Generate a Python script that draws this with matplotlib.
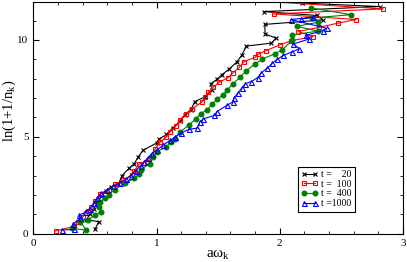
import matplotlib
matplotlib.use("Agg")
import matplotlib.pyplot as plt

# t = 20
x20 = [0.50, 0.53, 0.43, 0.46, 0.49, 0.52, 0.55, 0.59, 0.63, 0.69, 0.72, 0.78, 0.82, 0.85,
       0.89, 1.00, 1.02, 1.08, 1.13, 1.19, 1.23, 1.28, 1.31, 1.39, 1.45, 1.44, 1.49, 1.53,
       1.59, 1.65, 1.69, 1.73, 1.93, 1.97, 1.88, 1.88, 2.35, 2.30, 1.87, 2.81, 2.18]
y20 = [0.22, 0.62, 0.72, 1.02, 1.30, 1.60, 1.92, 2.20, 2.42, 2.55, 3.00, 3.40, 3.62, 3.96,
       4.30, 4.68, 4.88, 5.12, 5.45, 5.80, 6.15, 6.40, 6.82, 7.05, 7.40, 7.74, 7.96, 8.20,
       8.50, 8.85, 9.20, 9.68, 9.83, 10.09, 10.31, 10.80, 11.03, 11.26, 11.46, 11.72, 11.90]

# t = 100
x100 = [0.18, 0.33, 0.36, 0.40, 0.44, 0.47, 0.50, 0.54, 0.61, 0.66, 0.73, 0.80, 0.82, 0.86,
        0.92, 0.99, 1.03, 1.08, 1.11, 1.16, 1.19, 1.24, 1.29, 1.37, 1.39, 1.42, 1.46, 1.51,
        1.58, 1.62, 1.67, 1.71, 1.80, 1.82, 1.89, 2.00, 2.09, 2.27, 2.15, 2.32, 2.47, 2.62,
        1.95, 2.84, 1.60]
y100 = [0.14, 0.38, 0.62, 0.85, 1.15, 1.40, 1.70, 2.05, 2.25, 2.55, 2.75, 3.05, 3.25, 3.60,
        3.72, 4.39, 4.73, 5.00, 5.25, 5.58, 5.88, 6.20, 6.45, 6.80, 7.05, 7.30, 7.56, 7.82,
        8.05, 8.30, 8.58, 8.88, 9.10, 9.25, 9.45, 9.74, 9.95, 10.17, 10.43, 10.65, 10.86, 11.05,
        11.34, 11.60, 12.10]

# t = 400
x400 = [0.31, 0.43, 0.38, 0.44, 0.50, 0.55, 0.53, 0.54, 0.58, 0.61, 0.66, 0.74, 0.82, 0.86,
        0.87, 0.95, 0.97, 1.00, 1.08, 1.12, 1.15, 1.19, 1.26, 1.32, 1.36, 1.41, 1.45, 1.49,
        1.54, 1.57, 1.62, 1.68, 1.73, 1.80, 1.86, 1.96, 2.02, 2.10, 2.10, 2.31, 2.14, 2.31,
        2.26, 2.58, 2.25]
y400 = [0.27, 0.19, 0.62, 0.70, 0.96, 1.13, 1.40, 1.65, 1.82, 1.99, 2.28, 2.62, 2.85, 3.10,
        3.31, 3.62, 3.95, 4.22, 4.48, 4.73, 4.90, 5.25, 5.59, 5.93, 6.19, 6.40, 6.67, 6.93,
        7.17, 7.39, 7.74, 8.08, 8.42, 8.76, 9.02, 9.28, 9.49, 9.97, 10.26, 10.45, 10.70, 10.91,
        11.13, 11.30, 11.65]

# t = 1000
x1000 = [0.23, 0.33, 0.32, 0.38, 0.37, 0.42, 0.46, 0.49, 0.52, 0.55, 0.60, 0.65, 0.70, 0.75,
         0.79, 0.83, 0.87, 0.90, 0.93, 0.96, 1.00, 1.05, 1.11, 1.15, 1.20, 1.26, 1.33, 1.35,
         1.38, 1.47, 1.49, 1.57, 1.62, 1.63, 1.66, 1.69, 1.72, 1.77, 1.82, 1.85, 1.90, 1.94,
         1.98, 2.03, 2.10, 2.16, 2.11, 2.24, 2.21, 2.35, 2.38, 2.09, 2.27, 2.17]
y1000 = [0.19, 0.22, 0.50, 0.79, 0.95, 1.10, 1.30, 1.56, 1.82, 2.08, 2.25, 2.45, 2.62, 2.80,
         3.00, 3.25, 3.50, 3.72, 3.92, 4.13, 4.30, 4.56, 4.82, 4.99, 5.20, 5.38, 5.45, 5.76,
         5.92, 6.11, 6.30, 6.62, 6.80, 7.00, 7.26, 7.50, 7.74, 7.85, 8.05, 8.30, 8.55, 8.80,
         9.00, 9.20, 9.38, 9.54, 9.79, 10.05, 10.23, 10.48, 10.60, 11.05, 11.17, 11.08]

labels = ["t =    20", "t =  100", "t =  400", "t =1000"]

plt.rcParams["font.family"] = "Liberation Serif"
plt.rcParams["mathtext.fontset"] = "custom"
plt.rcParams["mathtext.rm"] = "Liberation Serif"
plt.rcParams["mathtext.it"] = "Liberation Serif"

fig = plt.figure(figsize=(4.07, 2.62), dpi=100)
ax = fig.add_axes([0.082, 0.108, 0.908, 0.884])

lw = 0.8
ax.plot(x20, y20, color="black", marker="x", ms=2.8, mew=0.8, lw=lw, label=labels[0])
ax.plot(x100, y100, color="red", marker="s", ms=3.3, mfc="none", mew=0.8, lw=lw, label=labels[1])
ax.plot(x400, y400, color="green", marker="o", ms=3.3, mec="green", lw=lw, label=labels[2])
ax.plot(x1000, y1000, color="blue", marker="^", ms=3.6, mfc="none", mew=0.8, lw=lw, label=labels[3])

ax.set_xlim(0, 3)
ax.set_ylim(0, 11.95)
ax.set_xticks([0, 1, 2, 3])
ax.set_xticks([i * 0.2 for i in range(16)], minor=True)
ax.set_yticks([0, 5, 10])
ax.set_yticks(range(12), minor=True)
ax.tick_params(which="both", direction="in", top=True, right=True, labelsize=8)
ax.tick_params(which="major", length=4)
ax.tick_params(which="minor", length=2)

ax.set_xlabel(r"a$\mathrm{\omega}_\mathrm{k}$", fontsize=11, labelpad=0)
ax.set_ylabel(r"ln(1+1/n$_\mathrm{k}$)", fontsize=10.5, va="center")
ax.yaxis.set_label_coords(-0.064, 0.53)

leg = ax.legend(loc="upper left", bbox_to_anchor=(0.716, 0.29), fontsize=7,
                numpoints=2, fancybox=False, framealpha=1, edgecolor="black",
                handlelength=1.7, borderpad=0.35, labelspacing=0.08, handletextpad=0.35,
                borderaxespad=0)
leg.get_frame().set_linewidth(0.8)

fig.savefig("out.png", dpi=100)
